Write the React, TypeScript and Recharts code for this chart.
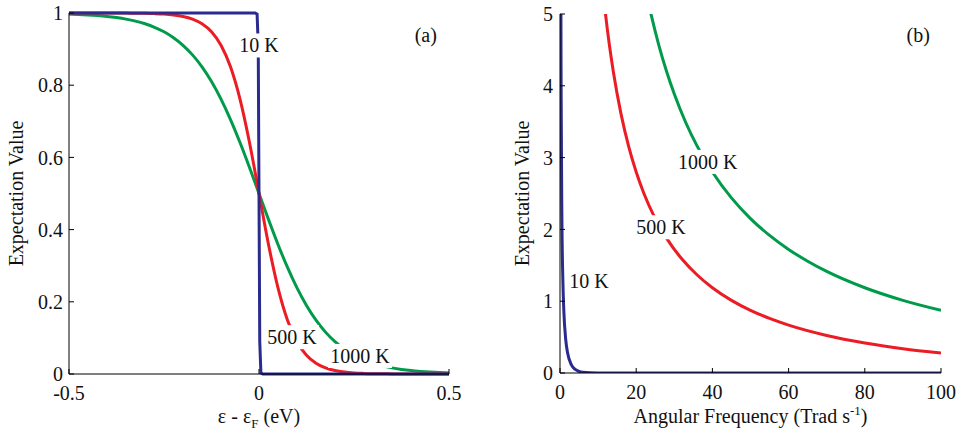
import { LineChart, Line, XAxis, YAxis, ReferenceDot } from "recharts";

const SERIF = "Liberation Serif, Times New Roman, Times, serif";

const BLUE = "#2a2b8f";
const RED = "#ec1c24";
const GREEN = "#009b4a";

// panel (a): occupation vs energy (eV)
const energy = [
  -0.5, -0.475, -0.45, -0.425, -0.4, -0.375, -0.35, -0.325, -0.3, -0.275, -0.25,
  -0.225, -0.2, -0.175, -0.15, -0.125, -0.1, -0.075, -0.05, -0.025, 0, 0.025,
  0.05, 0.075, 0.1, 0.125, 0.15, 0.175, 0.2, 0.225, 0.25, 0.275, 0.3, 0.325,
  0.35, 0.375, 0.4, 0.425, 0.45, 0.475, 0.5,
];
const fd500 = [
  1, 1, 1, 1, 0.9999, 0.9998, 0.9997, 0.9995, 0.9991, 0.9983, 0.997, 0.9946,
  0.9905, 0.9831, 0.9701, 0.9479, 0.9106, 0.8508, 0.7614, 0.6411, 0.5, 0.3589,
  0.2386, 0.1492, 0.0894, 0.0521, 0.0299, 0.0169, 0.0095, 0.0054, 0.003,
  0.0017, 0.0009, 0.0005, 0.0003, 0.0002, 0.0001, 0, 0, 0, 0,
];
const fd1000 = [
  0.997, 0.996, 0.9946, 0.9928, 0.9905, 0.9873, 0.9831, 0.9775, 0.9701, 0.9605,
  0.9479, 0.9315, 0.9106, 0.884, 0.8508, 0.8101, 0.7614, 0.7048, 0.6411, 0.572,
  0.5, 0.428, 0.3589, 0.2952, 0.2386, 0.1899, 0.1492, 0.116, 0.0894, 0.0685,
  0.0521, 0.0395, 0.0299, 0.0225, 0.0169, 0.0127, 0.0095, 0.0072, 0.0054,
  0.004, 0.003,
];
const energy10 = [-0.5, -0.01, -0.005, -0.002, 0, 0.002, 0.005, 0.01, 0.5];
const fd10 = [1, 1, 0.997, 0.9106, 0.5, 0.0894, 0.003, 0, 0];

// panel (b): occupation vs angular frequency (Trad/s)
const omega10 = [0.05, 0.1, 0.2, 0.3, 0.5, 0.75, 1, 1.5, 2, 3, 4, 5, 6, 8, 10, 100];
const be10 = [
  25.7, 12.6, 6.06, 3.885, 2.151, 1.294, 0.8727, 0.4665, 0.2774, 0.1126,
  0.0495, 0.0225, 0.0103, 0.0022, 0.0005, 0,
];
const omega500 = [11, 12, 13, 14, 16, 18, 20, 22, 25, 28, 32, 36, 40, 45, 50, 55, 60, 70, 80, 90, 100];
const be500 = [
  5.467, 4.973, 4.554, 4.195, 3.612, 3.16, 2.8, 2.504, 2.151, 1.875, 1.587,
  1.365, 1.1875, 1.0118, 0.8727, 0.7598, 0.6667, 0.5229, 0.4179, 0.3387, 0.2774,
];
const omega1000 = [22, 23, 24, 26, 28, 30, 33, 36, 40, 45, 50, 55, 60, 65, 70, 80, 90, 100];
const be1000 = [
  5.467, 5.208, 4.973, 4.554, 4.195, 3.885, 3.489, 3.16, 2.8, 2.439, 2.151,
  1.916, 1.721, 1.557, 1.415, 1.1875, 1.0118, 0.8727,
];

const ticksEnergy = [-0.5, 0, 0.5];
const ticksFD = [0, 0.2, 0.4, 0.6, 0.8, 1];
const ticksOmega = [0, 20, 40, 60, 80, 100];
const ticksBE = [0, 1, 2, 3, 4, 5];

// in-plot text labels (data coordinates)
const labelsA = [
  { x: 0.0, y: 0.91, text: "10 K", bg: true },
  { x: 0.087, y: 0.102, text: "500 K", bg: true },
  { x: 0.266, y: 0.05, text: "1000 K", bg: true },
  { x: 0.439, y: 0.94, text: "(a)", bg: false },
];
const labelsB = [
  { x: 38.8, y: 2.94, text: "1000 K", bg: true },
  { x: 26.5, y: 2.03, text: "500 K", bg: true },
  { x: 7.6, y: 1.28, text: "10 K", bg: true },
  { x: 94, y: 4.71, text: "(b)", bg: false },
];

const zip = (xs: number[], ys: number[]) => xs.map((x, i) => ({ x, y: ys[i] }));

const tickStyle = { fill: "#111", fontSize: 20, fontFamily: SERIF };

function textShape(text: string, bg: boolean) {
  return (p: any) => {
    const w = text.length * 10 + 4;
    return (
      <g>
        {bg && <rect x={p.cx - w / 2} y={p.cy - 12} width={w} height={24} fill="#fff" />}
        <text
          x={p.cx}
          y={p.cy}
          textAnchor="middle"
          dominantBaseline="central"
          style={{ fontSize: 20, fontFamily: SERIF, fill: "#111" }}
        >
          {text}
        </text>
      </g>
    );
  };
}

function yTitle(cx: number) {
  return (props: any) => {
    const vb = props.viewBox;
    const cy = vb.y + vb.height / 2;
    return (
      <text
        x={cx}
        y={cy}
        transform={`rotate(-90 ${cx} ${cy})`}
        textAnchor="middle"
        dominantBaseline="central"
        style={{ fontSize: 20, fontFamily: SERIF, fill: "#111" }}
      >
        Expectation Value
      </text>
    );
  };
}

const xTitleA = (props: any) => {
  const vb = props.viewBox;
  return (
    <text
      x={vb.x + vb.width / 2}
      y={vb.y + vb.height - 9}
      textAnchor="middle"
      style={{ fontSize: 20, fontFamily: SERIF, fill: "#111" }}
    >
      ε - ε
      <tspan style={{ fontSize: 13 }} dy={5}>F</tspan>
      <tspan dy={-5}> (eV)</tspan>
    </text>
  );
};

const xTitleB = (props: any) => {
  const vb = props.viewBox;
  return (
    <text
      x={vb.x + vb.width / 2}
      y={vb.y + vb.height - 9}
      textAnchor="middle"
      style={{ fontSize: 20, fontFamily: SERIF, fill: "#111" }}
    >
      Angular Frequency (Trad s
      <tspan style={{ fontSize: 13 }} dy={-8}>-1</tspan>
      <tspan dy={8}>)</tspan>
    </text>
  );
};

function PanelA() {
  return (
    <LineChart width={480} height={432} margin={{ top: 13, right: 31, bottom: 0, left: 0 }}>
      <XAxis
        dataKey="x"
        type="number"
        domain={[-0.5, 0.5]}
        ticks={ticksEnergy}
        interval={0}
        height={58}
        stroke="#000"
        tickSize={-5}
        tickMargin={17}
        tick={tickStyle}
        label={xTitleA}
      />
      <XAxis
        xAxisId="top"
        orientation="top"
        type="number"
        domain={[-0.5, 0.5]}
        ticks={ticksEnergy}
        interval={0}
        height={0}
        stroke="#000"
        tickSize={-5}
        tickFormatter={() => ""}
      />
      <YAxis
        type="number"
        domain={[0, 1]}
        ticks={ticksFD}
        interval={0}
        width={69}
        stroke="#000"
        tickSize={-5}
        tickMargin={11}
        tick={tickStyle}
        label={yTitle(16)}
      />
      <YAxis
        yAxisId="right"
        orientation="right"
        type="number"
        domain={[0, 1]}
        ticks={ticksFD}
        interval={0}
        width={0}
        stroke="#000"
        tickSize={-5}
        tickFormatter={() => ""}
      />
      <Line data={zip(energy, fd1000)} dataKey="y" type="monotone" stroke={GREEN} strokeWidth={3} dot={false} isAnimationActive={false} />
      <Line data={zip(energy, fd500)} dataKey="y" type="monotone" stroke={RED} strokeWidth={3} dot={false} isAnimationActive={false} />
      <Line data={zip(energy10, fd10)} dataKey="y" type="linear" stroke={BLUE} strokeWidth={3} dot={false} isAnimationActive={false} />
      {labelsA.map((l) => (
        <ReferenceDot key={l.text} x={l.x} y={l.y} shape={textShape(l.text, l.bg)} />
      ))}
    </LineChart>
  );
}

function PanelB() {
  return (
    <LineChart width={482} height={432} margin={{ top: 14, right: 21, bottom: 0, left: 0 }}>
      <XAxis
        dataKey="x"
        type="number"
        domain={[0, 100]}
        ticks={ticksOmega}
        interval={0}
        allowDataOverflow
        height={59}
        stroke="#000"
        tickSize={-5}
        tickMargin={17}
        tick={tickStyle}
        label={xTitleB}
      />
      <XAxis
        xAxisId="top"
        orientation="top"
        type="number"
        domain={[0, 100]}
        ticks={ticksOmega}
        interval={0}
        height={0}
        stroke="#000"
        tickSize={-5}
        tickFormatter={() => ""}
      />
      <YAxis
        type="number"
        domain={[0, 5]}
        ticks={ticksBE}
        interval={0}
        allowDataOverflow
        width={80}
        stroke="#000"
        tickSize={-5}
        tickMargin={12}
        tick={tickStyle}
        label={yTitle(42)}
      />
      <YAxis
        yAxisId="right"
        orientation="right"
        type="number"
        domain={[0, 5]}
        ticks={ticksBE}
        interval={0}
        width={0}
        stroke="#000"
        tickSize={-5}
        tickFormatter={() => ""}
      />
      <Line data={zip(omega1000, be1000)} dataKey="y" type="monotone" stroke={GREEN} strokeWidth={3} dot={false} isAnimationActive={false} />
      <Line data={zip(omega500, be500)} dataKey="y" type="monotone" stroke={RED} strokeWidth={3} dot={false} isAnimationActive={false} />
      <Line data={zip(omega10, be10)} dataKey="y" type="monotone" stroke={BLUE} strokeWidth={3} dot={false} isAnimationActive={false} />
      {labelsB.map((l) => (
        <ReferenceDot key={l.text} x={l.x} y={l.y} shape={textShape(l.text, l.bg)} />
      ))}
    </LineChart>
  );
}

export default function App() {
  return (
    <div
      style={{
        position: "absolute",
        left: 0,
        top: 0,
        width: 962,
        height: 432,
        background: "#fff",
        fontFamily: SERIF,
      }}
    >
      <div style={{ position: "absolute", left: 0, top: 0 }}>
        <PanelA />
      </div>
      <div style={{ position: "absolute", left: 480, top: 0 }}>
        <PanelB />
      </div>
    </div>
  );
}
